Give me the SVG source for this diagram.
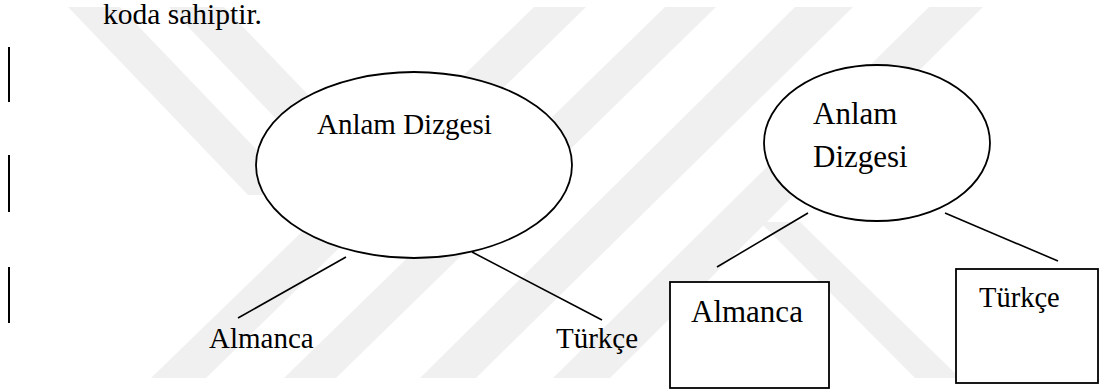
<svg xmlns="http://www.w3.org/2000/svg" width="1103" height="390" viewBox="0 0 1103 390">
<style>
.wm{fill:#f0f0f0}
.t{fill:#000}
.shape{fill:#fff;stroke:#000;stroke-width:1.8}
.con{stroke:#000;stroke-width:1.6;fill:none}
.bar{fill:#000}
</style>
<rect x="0" y="0" width="1103" height="390" fill="#fff"/>
<g id="watermark">
<polygon class="wm" points="68,7 120,7 300,195 248,195"/>
<polygon class="wm" points="169,7 224,7 404,195 349,195"/>
<polygon class="wm" points="534,7 586,7 206,378 151,378"/>
<polygon class="wm" points="665,7 716,7 336,378 284,378"/>
<polygon class="wm" points="795,7 853,7 476,378 420,378"/>
<polygon class="wm" points="929,7 983,7 610,378 553,378"/>
<polygon class="wm" points="760,222 800,222 960,378 915,378"/>
</g>
<g id="text-top"><text class="t" font-family="Liberation Serif, DejaVu Serif, serif" font-size="29.5" x="103" y="24">koda sahiptir.</text></g>
<g id="bars">
<rect class="bar" x="8" y="47" width="2" height="55"/>
<rect class="bar" x="8" y="155" width="2" height="57"/>
<rect class="bar" x="8" y="267" width="2" height="56"/>
</g>
<g id="connectors">
<line class="con" x1="346" y1="257" x2="238" y2="318"/>
<line class="con" x1="472" y1="252" x2="602" y2="320"/>
<line class="con" x1="808" y1="213" x2="717" y2="267"/>
<line class="con" x1="945" y1="213" x2="1058" y2="261"/>
</g>
<g id="node-left-ellipse">
<ellipse class="shape" cx="414" cy="165" rx="158" ry="93"/>
<text class="t" font-family="Liberation Serif, DejaVu Serif, serif" font-size="29" x="317" y="134">Anlam Dizgesi</text>
</g>
<g id="node-left-almanca"><text class="t" font-family="Liberation Serif, DejaVu Serif, serif" font-size="29" x="209" y="348">Almanca</text></g>
<g id="node-left-turkce"><text class="t" font-family="Liberation Serif, DejaVu Serif, serif" font-size="29" x="556" y="348">Türkçe</text></g>
<g id="node-right-ellipse">
<ellipse class="shape" cx="877" cy="143" rx="113" ry="78"/>
<text class="t" font-family="Liberation Serif, DejaVu Serif, serif" font-size="31" x="813" y="124">Anlam</text>
<text class="t" font-family="Liberation Serif, DejaVu Serif, serif" font-size="31" x="813" y="167">Dizgesi</text>
</g>
<g id="node-right-almanca">
<rect class="shape" x="670" y="282" width="159" height="106"/>
<text class="t" font-family="Liberation Serif, DejaVu Serif, serif" font-size="31" x="691" y="322">Almanca</text>
</g>
<g id="node-right-turkce">
<rect class="shape" x="956" y="269" width="142" height="114"/>
<text class="t" font-family="Liberation Serif, DejaVu Serif, serif" font-size="28.5" x="979" y="307">Türkçe</text>
</g>
</svg>
